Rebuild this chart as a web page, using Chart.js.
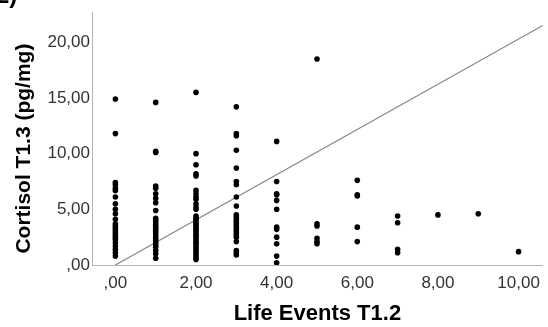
<!DOCTYPE html>
<html>
<head>
<meta charset="utf-8">
<script src="https://cdn.jsdelivr.net/npm/chart.js@4/dist/chart.umd.min.js"></script>
<style>
  html, body { margin: 0; padding: 0; background: #fff; }
  #wrap { position: relative; width: 548px; height: 327px; overflow: hidden; }
  #panel { position: absolute; left: -4px; top: -17px; font: bold 24px "Liberation Sans", Arial, sans-serif; line-height: 24px; color: #000; z-index: 2; }
</style>
</head>
<body>
<div id="wrap">
  <div id="panel">2)</div>
  <canvas id="c"></canvas>
</div>
<script>
// ---- data ----
const lifeEvents = [0, 1, 2, 3, 4, 5, 6, 7, 8, 9, 10];
const cortisolLE0 = [14.9, 11.8, 7.4, 7.2, 6.9, 6.7, 6.1, 5.5, 5.0, 4.6, 4.1, 3.7, 3.5, 3.3, 3.1, 2.9, 2.7, 2.5, 2.3, 2.0, 1.7, 1.4, 1.1, 0.8];
const cortisolLE1 = [14.6, 10.2, 10.1, 7.1, 6.9, 6.4, 6.0, 5.6, 4.9, 4.2, 4.0, 3.8, 3.6, 3.4, 3.2, 3.0, 2.8, 2.6, 2.4, 2.2, 2.0, 1.8, 1.6, 1.3, 1.0, 0.6];
const cortisolLE2 = [15.5, 10.0, 9.0, 8.2, 8.0, 6.7, 6.4, 6.1, 5.9, 5.5, 5.2, 5.0, 4.4, 4.2, 4.1, 3.9, 3.7, 3.6, 3.4, 3.2, 3.1, 2.9, 2.7, 2.6, 2.4, 2.2, 2.0, 1.9, 1.7, 1.5, 1.3, 1.1, 0.9, 0.7, 0.5];
const cortisolLE3 = [14.2, 11.8, 11.6, 10.3, 8.7, 7.5, 7.2, 6.1, 5.3, 4.5, 4.3, 4.1, 3.9, 3.7, 3.5, 3.3, 3.1, 2.9, 2.7, 2.5, 2.1, 1.3, 1.1, 0.9];
const cortisolLE4 = [11.1, 7.5, 6.4, 6.3, 5.8, 5.0, 3.4, 3.2, 2.5, 1.9, 0.8, 0.2];
const cortisolLE5 = [18.5, 3.7, 3.5, 2.4, 2.1, 1.9];
const cortisolLE6 = [7.6, 6.3, 6.2, 3.4, 2.1];
const cortisolLE7 = [4.4, 3.8, 1.4, 1.1];
const cortisolLE8 = [4.5];
const cortisolLE9 = [4.6];
const cortisolLE10 = [1.2];
const cortisolByLifeEvents = [cortisolLE0, cortisolLE1, cortisolLE2, cortisolLE3, cortisolLE4, cortisolLE5, cortisolLE6, cortisolLE7, cortisolLE8, cortisolLE9, cortisolLE10];

// reference line (as drawn)
const fitLineX = [0, 10.6];
const fitLineY = [0, 21.5];

// ticks
const xTickValues = [0, 2, 4, 6, 8, 10];
const xTickLabels = [',00', '2,00', '4,00', '6,00', '8,00', '10,00'];
const yTickValues = [0, 5, 10, 15, 20];
const yTickLabels = [',00', '5,00', '10,00', '15,00', '20,00'];

const xTitle = 'Life Events T1.2';
const yTitle = 'Cortisol T1.3 (pg/mg)';

// ---- build ----
const scatterPoints = [];
lifeEvents.forEach((le, i) => {
  cortisolByLifeEvents[i].forEach(v => scatterPoints.push({ x: le, y: v }));
});
const linePoints = fitLineX.map((x, i) => ({ x: x, y: fitLineY[i] }));

const FONT = '"Liberation Sans", Arial, sans-serif';

const yTitlePlugin = {
  id: 'yTitleDraw',
  afterDraw(chart) {
    const ca = chart.chartArea;
    const ctx = chart.ctx;
    ctx.save();
    ctx.translate(24.5, (ca.top + ca.bottom) / 2 + 10);
    ctx.rotate(-Math.PI / 2);
    ctx.font = 'bold 21px ' + FONT;
    ctx.fillStyle = '#000';
    ctx.textAlign = 'center';
    ctx.textBaseline = 'middle';
    ctx.fillText(chart.options.scales.y.title.text, 0, 0);
    ctx.restore();
  }
};

new Chart(document.getElementById('c'), {
  type: 'scatter',
  data: {
    datasets: [
      {
        type: 'line',
        label: 'Fit',
        data: linePoints,
        borderColor: '#858585',
        borderWidth: 1.2,
        pointRadius: 0,
        fill: false,
        tension: 0,
        order: 2
      },
      {
        label: 'Cortisol',
        data: scatterPoints,
        backgroundColor: '#000',
        borderWidth: 0,
        pointRadius: 2.8,
        pointHoverRadius: 2.8,
        order: 1
      }
    ]
  },
  options: {
    responsive: true,
    maintainAspectRatio: false,
    animation: false,
    layout: { padding: { top: 10, right: 1, left: 0, bottom: 0 } },
    plugins: { legend: { display: false }, tooltip: { enabled: false } },
    scales: {
      x: {
        type: 'linear',
        min: -0.58,
        max: 10.6,
        grid: { display: false, drawTicks: false },
        border: { display: true, color: '#b5b5b5', width: 1 },
        afterFit(scale) { scale.height = 62; },
        afterBuildTicks(scale) { scale.ticks = xTickValues.map(v => ({ value: v })); },
        ticks: {
          padding: 8,
          color: '#333',
          font: { family: FONT, size: 17 },
          maxRotation: 0,
          callback: (v) => { const i = xTickValues.indexOf(v); return i >= 0 ? xTickLabels[i] : ''; }
        },
        title: {
          display: true,
          text: xTitle,
          color: '#000',
          font: { family: FONT, size: 22, weight: 'bold', lineHeight: 1.2 },
          padding: { top: 0, bottom: 0 }
        }
      },
      y: {
        type: 'linear',
        min: 0,
        max: 22.7,
        grid: { display: false, drawTicks: false },
        border: { display: true, color: '#b5b5b5', width: 1 },
        afterFit(scale) { scale.width = 92; },
        afterBuildTicks(scale) { scale.ticks = yTickValues.map(v => ({ value: v })); },
        ticks: {
          padding: 2,
          color: '#333',
          font: { family: FONT, size: 17 },
          callback: (v) => { const i = yTickValues.indexOf(v); return i >= 0 ? yTickLabels[i] : ''; }
        },
        title: { display: false, text: yTitle }
      }
    }
  },
  plugins: [yTitlePlugin]
});
</script>
</body>
</html>
